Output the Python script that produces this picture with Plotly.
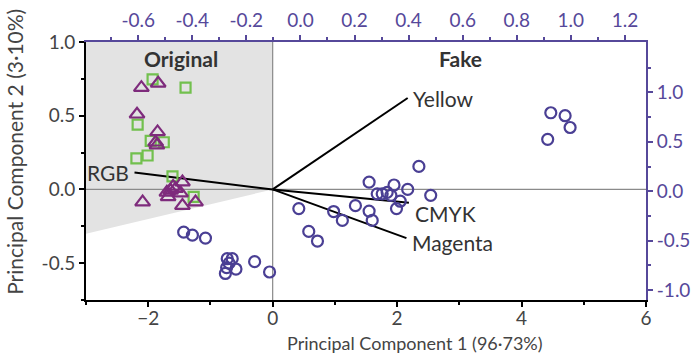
import plotly.graph_objects as go

# ---- data ----
orig_tri_x = [-2.11, -1.84, -2.18, -1.85, -1.88, -1.86, -1.45, -1.70, -1.64, -1.56, -1.48, -1.68, -2.09, -1.45, -1.24, -1.60]
orig_tri_y = [0.69, 0.72, 0.51, 0.39, 0.32, 0.30, 0.05, -0.02, -0.007, 0.005, -0.025, -0.05, -0.086, -0.11, -0.086, 0.02]

orig_sq_x = [-1.93, -1.40, -2.17, -1.96, -1.75, -2.19, -2.01, -1.61, -1.27]
orig_sq_y = [0.746, 0.69, 0.44, 0.33, 0.32, 0.21, 0.23, 0.088, -0.05]

fake_x = [-1.43, -1.29, -1.08, -0.73, -0.65, -0.70, -0.59, -0.76, -0.74, -0.29, -0.05,
          0.42, 0.58, 0.72, 0.98, 1.12, 1.33, 1.55, 1.55, 1.60, 1.68, 1.76, 1.84, 1.95,
          1.90, 1.99, 2.05, 2.17, 2.35, 2.54, 4.47, 4.70, 4.78, 4.42]
fake_y = [-0.29, -0.31, -0.33, -0.47, -0.47, -0.50, -0.54, -0.57, -0.53, -0.49, -0.56,
          -0.13, -0.285, -0.35, -0.15, -0.21, -0.11, 0.05, -0.147, -0.21, -0.03, -0.03, -0.02, 0.03,
          -0.04, -0.13, -0.08, 0.0, 0.156, -0.04, 0.52, 0.50, 0.42, 0.34]

vec_names = ["Yellow", "RGB", "CMYK", "Magenta"]
vec_x = [2.17, -2.22, 2.19, 2.15]
vec_y = [0.62, 0.115, -0.09, -0.33]

x_range = [-3, 6]
y_range = [-0.75, 1.0]
x2_range = [-0.793, 1.278]
y2_range = [-1.10, 1.51]

x_title = "Principal Component 1 (96·73%)"
y_title = "Principal Component 2 (3·10%)"

PURPLE = "#56489a"
FONT = "Lato"
TICK = 19

fig = go.Figure()

# shaded "Original" region
fig.add_shape(type="path", path=f"M {x_range[0]},{y_range[1]} L 0,{y_range[1]} L 0,0 L {x_range[0]},-0.3 Z",
              xref="x", yref="y", fillcolor="#e3e3e3", line_width=0, layer="below")
# zero lines
fig.add_shape(type="line", x0=x_range[0], x1=x_range[1], y0=0, y1=0, xref="x", yref="y",
              line=dict(color="#8a8a8a", width=1.2), layer="below")
fig.add_shape(type="line", x0=0, x1=0, y0=y_range[0], y1=y_range[1], xref="x", yref="y",
              line=dict(color="#8a8a8a", width=1.2), layer="below")

# loading vectors
for n, vx, vy in zip(vec_names, vec_x, vec_y):
    fig.add_trace(go.Scatter(x=[0, vx], y=[0, vy], mode="lines",
                             line=dict(color="black", width=2), showlegend=False, hoverinfo="skip"))

fig.add_trace(go.Scatter(x=fake_x, y=fake_y, mode="markers", showlegend=False,
                         marker=dict(symbol="circle-open", size=11, color="#4a3f94",
                                     line=dict(width=2.2, color="#4a3f94"))))
fig.add_trace(go.Scatter(x=orig_sq_x, y=orig_sq_y, mode="markers", showlegend=False,
                         marker=dict(symbol="square-open", size=10, color="#72c04e",
                                     line=dict(width=2.2, color="#72c04e"))))
fig.add_trace(go.Scatter(x=orig_tri_x, y=orig_tri_y, mode="markers", showlegend=False,
                         marker=dict(symbol="triangle-up-open", size=13, color="#7e2b7c",
                                     line=dict(width=2.2, color="#7e2b7c"))))

# invisible trace for secondary axes
fig.add_trace(go.Scatter(x=[x2_range[0]], y=[y2_range[0]], xaxis="x2", yaxis="y2",
                         mode="markers", marker=dict(opacity=0), showlegend=False, hoverinfo="skip"))

# vector labels
offsets = {"Yellow": (0.06, 0.0, "left"), "RGB": (-0.05, 0.0, "right"),
           "CMYK": (0.06, -0.075, "left"), "Magenta": (0.06, -0.03, "left")}
for n, vx, vy in zip(vec_names, vec_x, vec_y):
    dx, dy, anc = offsets[n]
    fig.add_annotation(x=vx + dx, y=vy + dy, text=n, showarrow=False, xanchor=anc, yanchor="middle",
                       font=dict(family=FONT, size=21, color="#333333"))

fig.add_annotation(x=-1.48, y=0.89, text="<b>Original</b>", showarrow=False,
                   font=dict(family=FONT, size=21, color="#333333"))
fig.add_annotation(x=3.02, y=0.89, text="<b>Fake</b>", showarrow=False,
                   font=dict(family=FONT, size=21, color="#333333"))

# axis titles (placed as in the reference, slightly off-centre)
fig.add_annotation(xref="paper", yref="paper", x=0.5875, y=-0.165, text=x_title, showarrow=False,
                   xanchor="center", yanchor="middle", font=dict(family=FONT, size=18, color="#444444"))
fig.add_annotation(xref="paper", yref="paper", x=-0.127, y=0.574, text=y_title, showarrow=False,
                   textangle=-90, xanchor="center", yanchor="middle",
                   font=dict(family=FONT, size=21, color="#444444"))

fig.update_layout(
    width=696, height=358,
    margin=dict(l=86, r=50, t=42, b=58, autoexpand=False),
    plot_bgcolor="white", paper_bgcolor="white",
    font=dict(family=FONT, size=16, color="#444444"),
    xaxis=dict(range=x_range, tickvals=[-2, 0, 2, 4, 6], showgrid=False, zeroline=False, automargin=False,
               showline=True, linecolor="black", linewidth=2, ticks="outside", ticklen=5,
               tickwidth=1.5, tickcolor="black", ticklabelstandoff=-5,
               minor=dict(tickvals=[-3, -1, 1, 3, 5], ticks="outside", ticklen=3, tickcolor="black"),
               tickfont=dict(family=FONT, size=TICK, color="#444444")),
    yaxis=dict(range=y_range, tickvals=[-0.5, 0.0, 0.5, 1.0], ticktext=["-0.5", "0.0", "0.5", "1.0"],
               showgrid=False, zeroline=False, automargin=False,
               showline=True, linecolor="black", linewidth=2, ticks="outside", ticklen=5,
               tickwidth=1.5, tickcolor="black",
               minor=dict(tickvals=[-0.75, -0.25, 0.25, 0.75], ticks="outside", ticklen=3, tickcolor="black"),
               tickfont=dict(family=FONT, size=TICK, color="#444444")),
    xaxis2=dict(range=x2_range, overlaying="x", side="top", anchor="y", automargin=False,
                tickvals=[-0.6, -0.4, -0.2, 0.0, 0.2, 0.4, 0.6, 0.8, 1.0, 1.2],
                ticktext=["-0.6", "-0.4", "-0.2", "0.0", "0.2", "0.4", "0.6", "0.8", "1.0", "1.2"],
                showgrid=False, zeroline=False, showline=True, linecolor=PURPLE, linewidth=2,
                ticks="outside", ticklen=5, tickwidth=1.5, tickcolor=PURPLE,
                minor=dict(tickvals=[-0.7, -0.5, -0.3, -0.1, 0.1, 0.3, 0.5, 0.7, 0.9, 1.1],
                           ticks="outside", ticklen=3, tickcolor=PURPLE),
                tickfont=dict(family=FONT, size=TICK, color=PURPLE)),
    yaxis2=dict(range=y2_range, overlaying="y", side="right", anchor="x", automargin=False,
                tickvals=[-1.0, -0.5, 0.0, 0.5, 1.0], ticktext=["-1.0", "-0.5", "0.0", "0.5", "1.0"],
                showgrid=False, zeroline=False, showline=True, linecolor=PURPLE, linewidth=2,
                ticks="outside", ticklen=5, tickwidth=1.5, tickcolor=PURPLE,
                minor=dict(tickvals=[-0.75, -0.25, 0.25, 0.75, 1.25], ticks="outside", ticklen=3, tickcolor=PURPLE),
                tickfont=dict(family=FONT, size=TICK, color=PURPLE)),
)

fig.write_html("out.html")
